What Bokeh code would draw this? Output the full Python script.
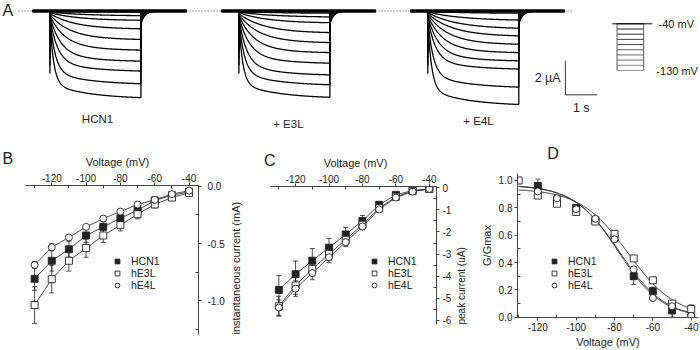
import numpy as np
from math import pi
from bokeh.plotting import figure
from bokeh.layouts import column, row
from bokeh.models import (Range1d, Label, Legend, LegendItem, Whisker, ColumnDataSource,
                          FixedTicker, PrintfTickFormatter, TeeHead)
from bokeh.embed import file_html
from bokeh.resources import INLINE

FONT = "Liberation Sans"
INK = "#222222"

# ------------------------------------------------------------------ data
voltages = [-130, -120, -110, -100, -90, -80, -70, -60, -50, -40]
series_names = ["HCN1", "hE3L", "hE4L"]

# B: instantaneous current (mA)
inst_hcn1 = [-0.807, -0.65, -0.55, -0.43, -0.355, -0.28, -0.21, -0.125, -0.08, -0.05]
inst_e3l = [-1.035, -0.81, -0.65, -0.54, -0.43, -0.34, -0.245, -0.16, -0.10, -0.06]
inst_e4l = [-0.686, -0.533, -0.447, -0.355, -0.283, -0.222, -0.16, -0.12, -0.07, -0.04]
inst_err_hcn1 = [0.10, 0.09, 0.07, 0.06, 0.05, 0.045, 0.04, 0.03, 0.02, 0.01]
inst_err_e3l = [0.16, 0.12, 0.09, 0.08, 0.06, 0.05, 0.04, 0.03, 0.02, 0.01]
inst_err_e4l = [0.03, 0.03, 0.02, 0.02, 0.02, 0.015, 0.01, 0.01, 0.01, 0.01]

# C: peak current (uA)
peak_hcn1 = [-4.62, -3.91, -3.30, -2.71, -2.11, -1.50, -0.77, -0.32, -0.12, -0.05]
peak_e3l = [-5.36, -4.42, -3.68, -2.99, -2.35, -1.67, -0.92, -0.41, -0.15, -0.05]
peak_e4l = [-5.42, -4.56, -3.86, -3.14, -2.46, -1.75, -0.98, -0.44, -0.17, -0.05]
peak_err_hcn1 = [0.65, 0.60, 0.55, 0.42, 0.32, 0.25, 0.15, 0.10, 0.05, 0.03]
peak_err_e3l = [0.45, 0.40, 0.30, 0.30, 0.25, 0.20, 0.15, 0.10, 0.05, 0.03]
peak_err_e4l = [0.35, 0.35, 0.30, 0.25, 0.20, 0.15, 0.10, 0.08, 0.05, 0.03]

# D: G/Gmax
gv_v_hcn1 = [-120, -110, -100, -90, -80, -70, -60, -50, -40]
gv_hcn1 = [0.96, 0.86, 0.80, 0.71, 0.58, 0.30, 0.19, 0.05, 0.00]
gv_err_hcn1 = [0.05, 0.02, 0.02, 0.01, 0.02, 0.06, 0.03, 0.05, 0.02]
gv_v_e3l = [-130, -120, -110, -100, -90, -80, -70, -60, -50, -40]
gv_e3l = [1.00, 0.89, 0.83, 0.77, 0.70, 0.61, 0.43, 0.27, 0.10, 0.06]
gv_err_e3l = [0.0, 0.01, 0.01, 0.01, 0.01, 0.02, 0.01, 0.02, 0.02, 0.03]
gv_v_e4l = [-120, -110, -100, -90, -80, -70, -60, -50, -40]
gv_e4l = [0.92, 0.87, 0.79, 0.72, 0.57, 0.35, 0.14, 0.08, 0.01]
gv_err_e4l = [0.01, 0.01, 0.01, 0.01, 0.01, 0.02, 0.01, 0.02, 0.01]
# Boltzmann fit parameters
fit_vhalf = [-77.5, -73.0, -78.0]
fit_slope = [12.0, 12.5, 11.5]
fit_top = [0.97, 0.94, 0.965]
fit_bottom = [-0.01, 0.0, -0.005]

# A: current traces (uA), one per step from -40 to -130 mV
step_voltages = [-40, -50, -60, -70, -80, -90, -100, -110, -120, -130]
ss_hcn1 = [0.06, 0.29, 0.57, 1.08, 1.71, 2.34, 3.00, 3.59, 4.35, 5.18]
ss_e3l = [0.14, 0.37, 0.72, 1.31, 1.90, 2.49, 3.12, 3.82, 4.41, 5.16]
ss_e4l = [0.14, 0.57, 1.06, 1.51, 2.00, 2.49, 2.98, 3.47, 4.55, 5.59]
inst_amp = [0.02, 0.06, 0.10, 0.15, 0.20, 0.26, 0.32, 0.40, 0.50, 0.62]
act_tau = [1.2, 1.1, 0.9, 0.75, 0.6, 0.45, 0.33, 0.24, 0.17, 0.12]
tail_amp = [0.0, 0.03, 0.08, 0.15, 0.25, 0.38, 0.50, 0.60, 0.70, 0.78]
cap_amp = [0.0, 0.4, 0.8, 1.2, 1.6, 2.0, 2.4, 2.8, 3.2, 3.68]
trace_labels = ["HCN1", "+ E3L", "+ E4L"]

# ------------------------------------------------------------------ panel A (also hosts panel letters)
PX_S = 31.7      # px per second
PX_UA = 17.0     # px per uA
A_H = 170
BASE_PX = 10.5
T_PRE, T_STEP, T_POST = 0.55, 2.87, 1.45
SLOW_TAU, TAIL_TAU = 1.2, 0.12
group_starts = [1.01, 6.97, 12.93]


def ua(px):      # vertical pixel -> current in panel A
    return -(px - BASE_PX) / PX_UA


fa = figure(width=700, height=A_H, x_range=Range1d(0, 700 / PX_S),
            y_range=Range1d(ua(A_H), ua(0)),
            x_axis_type=None, y_axis_type=None, min_border=0, frame_align=False,
            toolbar_location=None, output_backend="svg", outline_line_color=None)
fa.extra_y_ranges = {"mv": Range1d(-40 - (A_H - 23.3) / 0.5189, -40 + 23.3 / 0.5189)}

# zero line (dotted)
fa.line([0.57, 18.05], [0, 0], line_dash="1 2", line_color="#444444", line_width=1)

for g, ss in enumerate([ss_hcn1, ss_e3l, ss_e4l]):
    t0 = group_starts[g]
    xs, ys = [], []
    for k in range(len(ss)):
        u = np.linspace(0, T_STEP, 240)
        act = 0.8 * (1 - np.exp(-u / act_tau[k])) + 0.2 * (1 - np.exp(-u / SLOW_TAU))
        i_step = -(inst_amp[k] + (ss[k] - inst_amp[k]) * act)
        w = np.linspace(0, T_POST, 120)
        i_tail = -tail_amp[k] * np.exp(-w / TAIL_TAU)
        t = np.concatenate([[0, T_PRE, T_PRE], T_PRE + u, T_PRE + T_STEP + w]) + t0
        i = np.concatenate([[0, 0, -cap_amp[k]], i_step, i_tail])
        xs.append(t)
        ys.append(i)
    fa.multi_line(xs, ys, line_color="black", line_width=1.3)
    fa.line([t0, t0 + T_PRE + T_STEP + T_POST], [0, 0], line_color="black", line_width=3.5)

for txt, x, ypx in zip(trace_labels, [3.06, 9.08, 15.08], [118, 123, 120]):
    fa.add_layout(Label(x=x, y=ua(ypx), text=txt, text_align="center", text_baseline="middle",
                        text_font=FONT, text_font_size="11.5px", text_color=INK))

# scale bar
SB_T, SB_I = 17.82, -4.93
fa.line([SB_T, SB_T, SB_T + 1], [SB_I + 2, SB_I, SB_I], line_color="#333333", line_width=1)
fa.add_layout(Label(x=SB_T - 0.15, y=SB_I + 1.0, text="2 µA", text_align="right",
                    text_baseline="middle", text_font=FONT, text_font_size="12.5px", text_color=INK))
fa.add_layout(Label(x=SB_T + 0.5, y=SB_I - 0.8, text="1 s", text_align="center",
                    text_baseline="middle", text_font=FONT, text_font_size="12.5px", text_color=INK))

# voltage protocol inset
P_H0, P_T0, P_T1, P_H1 = 19.30, 19.45, 20.29, 20.56
n = len(step_voltages)
grays = ["#%02x%02x%02x" % ((int(20 + 130 * k / (n - 1)),) * 3) for k in range(n)]
fa.segment(x0=[P_T0] * n, x1=[P_T1] * n, y0=step_voltages, y1=step_voltages,
           line_color=grays, line_width=1, y_range_name="mv")
fa.segment(x0=[P_T0, P_T1], x1=[P_T0, P_T1], y0=[step_voltages[0]] * 2,
           y1=[step_voltages[-1]] * 2, line_color="#555555", line_width=1, y_range_name="mv")
fa.line([P_H0, P_H1], [step_voltages[0]] * 2, line_color="black", line_width=1, y_range_name="mv")
fa.add_layout(Label(x=20.76, y=step_voltages[0], y_range_name="mv", text="-40 mV",
                    text_baseline="middle", text_font=FONT, text_font_size="11px", text_color=INK))
fa.add_layout(Label(x=20.69, y=step_voltages[-1], y_range_name="mv", text="-130 mV",
                    text_baseline="middle", text_font=FONT, text_font_size="11px", text_color=INK))

# panel letters
for txt, x, ypx in zip(["A", "B", "C", "D"], [0.06, 0.063, 8.31, 17.25], [10, 157.5, 159.5, 153]):
    fa.add_layout(Label(x=x, y=ua(ypx), text=txt, text_baseline="middle", text_font=FONT,
                        text_font_size="16px", text_color=INK))
# top-axis titles of panels B and C
for x, ypx in zip([3.69, 11.2], [161.5, 162.5]):
    fa.add_layout(Label(x=x, y=ua(ypx), text="Voltage (mV)", text_align="center",
                        text_baseline="middle", text_font=FONT, text_font_size="11px",
                        text_color=INK))


# ------------------------------------------------------------------ helpers
def style_axis(ax, size="10px"):
    ax.axis_line_color = "#444444"
    ax.major_tick_line_color = "#444444"
    ax.minor_tick_line_color = "#444444"
    ax.major_tick_out = 3
    ax.major_tick_in = 0
    ax.minor_tick_in = 3
    ax.minor_tick_out = 0
    ax.major_label_text_font = FONT
    ax.major_label_text_font_size = size
    ax.major_label_text_color = INK
    ax.axis_label_text_font = FONT
    ax.axis_label_text_font_size = "11px"
    ax.axis_label_text_font_style = "normal"
    ax.axis_label_text_color = INK


def add_series(p, xs, ys, errs, marker, fill, connect=True):
    if connect:
        p.line(xs, ys, line_color=INK, line_width=0.8)
    src = ColumnDataSource(dict(x=xs, lo=[y - e for y, e in zip(ys, errs)],
                                hi=[y + e for y, e in zip(ys, errs)]))
    p.add_layout(Whisker(source=src, base="x", lower="lo", upper="hi", dimension="height",
                         line_color=INK, line_width=0.8,
                         lower_head=TeeHead(size=5, line_color=INK, line_width=0.8),
                         upper_head=TeeHead(size=5, line_color=INK, line_width=0.8)))
    return p.scatter(xs, ys, marker=marker, size=7, line_color=INK, fill_color=fill, line_width=0.9)


def add_legend(p, renderers, loc):
    items = [LegendItem(label=nm, renderers=[r]) for nm, r in zip(series_names, renderers)]
    lg = Legend(items=items, location=loc, border_line_color=None, background_fill_alpha=0,
                padding=0, margin=0, spacing=0, glyph_height=12, glyph_width=12, label_height=12,
                label_standoff=8, label_text_font=FONT, label_text_font_size="10.5px",
                label_text_color=INK)
    p.add_layout(lg)


vt_major = [-120, -100, -80, -60, -40]
vt_minor = [-130, -110, -90, -70, -50]
ROW2_H = 350 - A_H

# ------------------------------------------------------------------ panel B
fb = figure(width=250, height=ROW2_H, x_range=Range1d(-135.3, -34.5), y_range=Range1d(-1.292, 0.005),
            x_axis_location="above", y_axis_location="right", toolbar_location=None,
            output_backend="svg", min_border_left=25, min_border_right=41, min_border_top=15,
            min_border_bottom=16, outline_line_color=None, frame_align=False)
fb.grid.visible = False
style_axis(fb.xaxis[0])
style_axis(fb.yaxis[0])
fb.xaxis[0].ticker = FixedTicker(ticks=vt_major, minor_ticks=vt_minor)
fb.xaxis[0].formatter = PrintfTickFormatter(format="%d")
fb.xaxis[0].major_label_standoff = 1
fb.yaxis[0].ticker = FixedTicker(ticks=[0, -0.5, -1.0], minor_ticks=[-0.25, -0.75, -1.25])
fb.yaxis[0].formatter = PrintfTickFormatter(format="%.1f")
fb.yaxis[0].major_label_standoff = 6
fb.yaxis[0].axis_label = "instantaneous current (mA)"
fb.yaxis[0].axis_label_orientation = pi / 2
fb.yaxis[0].axis_label_align = "start"
fb.yaxis[0].axis_label_standoff = 8
rb = [add_series(fb, voltages, inst_hcn1, inst_err_hcn1, "square", INK),
      add_series(fb, voltages, inst_e3l, inst_err_e3l, "square", "white"),
      add_series(fb, voltages, inst_e4l, inst_err_e4l, "circle", "white")]
add_legend(fb, rb, (86, 43))

# ------------------------------------------------------------------ panel C
fc = figure(width=225, height=ROW2_H, x_range=Range1d(-135.0, -35.7), y_range=Range1d(-6.186, 0.059),
            x_axis_location="above", y_axis_location="right", toolbar_location=None,
            output_backend="svg", min_border_left=20, min_border_right=35, min_border_top=16,
            min_border_bottom=26, outline_line_color=None, frame_align=False)
fc.grid.visible = False
style_axis(fc.xaxis[0])
style_axis(fc.yaxis[0])
fc.xaxis[0].ticker = FixedTicker(ticks=vt_major, minor_ticks=vt_minor)
fc.xaxis[0].formatter = PrintfTickFormatter(format="%d")
fc.xaxis[0].major_label_standoff = 1
fc.yaxis[0].ticker = FixedTicker(ticks=[0, -1, -2, -3, -4, -5, -6],
                                 minor_ticks=[-0.5, -1.5, -2.5, -3.5, -4.5, -5.5])
fc.yaxis[0].formatter = PrintfTickFormatter(format="%d")
fc.yaxis[0].major_label_standoff = 3
fc.yaxis[0].axis_label = "peak current (uA)"
fc.yaxis[0].axis_label_orientation = pi / 2
fc.yaxis[0].axis_label_align = "start"
fc.yaxis[0].axis_label_standoff = 7
fc.yaxis[0].axis_label_text_font_size = "10px"
rc = [add_series(fc, voltages, peak_hcn1, peak_err_hcn1, "square", INK),
      add_series(fc, voltages, peak_e3l, peak_err_e3l, "square", "white"),
      add_series(fc, voltages, peak_e4l, peak_err_e4l, "circle", "white")]
add_legend(fc, rc, (98, 33))

# ------------------------------------------------------------------ panel D
fd = figure(width=225, height=ROW2_H, x_range=Range1d(-130.6, -36.2), y_range=Range1d(-0.002, 1.051),
            toolbar_location=None, output_backend="svg", min_border_left=42, min_border_right=2,
            min_border_top=3, min_border_bottom=33, outline_line_color=None, frame_align=False)
fd.grid.visible = False
style_axis(fd.xaxis[0])
style_axis(fd.yaxis[0])
fd.xaxis[0].ticker = FixedTicker(ticks=vt_major, minor_ticks=vt_minor)
fd.xaxis[0].formatter = PrintfTickFormatter(format="%d")
fd.xaxis[0].major_label_standoff = 2
fd.xaxis[0].axis_label = "Voltage (mV)"
fd.xaxis[0].axis_label_standoff = 2
fd.yaxis[0].ticker = FixedTicker(ticks=[0, 0.2, 0.4, 0.6, 0.8, 1.0],
                                 minor_ticks=[0.1, 0.3, 0.5, 0.7, 0.9])
fd.yaxis[0].formatter = PrintfTickFormatter(format="%.1f")
fd.yaxis[0].major_label_standoff = 2
fd.yaxis[0].axis_label = "G/Gmax"
fd.yaxis[0].axis_label_standoff = 3
v_fit = np.linspace(-130, -40, 200)
for vh, k, top, bot in zip(fit_vhalf, fit_slope, fit_top, fit_bottom):
    fd.line(v_fit, bot + (top - bot) / (1 + np.exp((v_fit - vh) / k)), line_color="#333333",
            line_width=1)
rd = [add_series(fd, gv_v_hcn1, gv_hcn1, gv_err_hcn1, "square", INK, connect=False),
      add_series(fd, gv_v_e3l, gv_e3l, gv_err_e3l, "square", "white", connect=False),
      add_series(fd, gv_v_e4l, gv_e4l, gv_err_e4l, "circle", "white", connect=False)]
add_legend(fd, rd, (31, 26))

layout = column(fa, row(fb, fc, fd))
open("out.html", "w").write(file_html(layout, INLINE))
